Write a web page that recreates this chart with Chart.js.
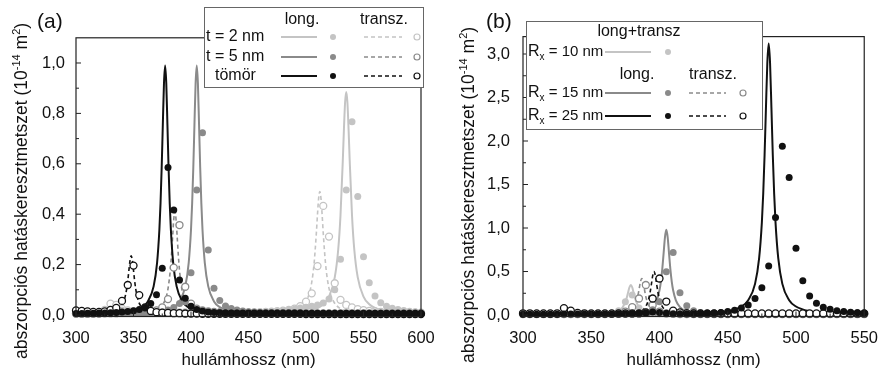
<!doctype html>
<html lang="hu">
<head>
<meta charset="utf-8">
<title>Abszorpciós hatáskeresztmetszet</title>
<script src="https://cdn.jsdelivr.net/npm/chart.js"></script>
<style>
  html, body { margin: 0; background: #fff; }
  canvas { position: absolute; top: 0; }
</style>
</head>
<body>
<canvas id="chartA" width="441" height="372" style="left:0"></canvas>
<canvas id="chartB" width="441" height="372" style="left:441px"></canvas>
<script>
// ---- (a) panel: dots on a 5 nm grid ----
const wlA = [300,305,310,315,320,325,330,335,340,345,350,355,360,365,370,375,380,385,390,395,
  400,405,410,415,420,425,430,435,440,445,450,455,460,465,470,475,480,485,490,495,
  500,505,510,515,520,525,530,535,540,545,550,555,560,565,570,575,580,585,590,595,600];

const t2LongDots = [0.004,0.004,0.004,0.005,0.005,0.006,0.010,0.020,0.020,0.015,
  0.012,0.010,0.008,0.007,0.006,0.006,0.006,0.006,0.006,0.006,
  0.006,0.006,0.006,0.006,0.006,0.006,0.007,0.007,0.007,0.008,
  0.008,0.009,0.010,0.011,0.012,0.014,0.016,0.019,0.023,0.028,
  0.031,0.035,0.040,0.048,0.063,0.100,0.221,0.496,0.767,0.470,
  0.231,0.128,0.075,0.049,0.035,0.027,0.022,0.018,0.015,0.013,0.011];
const t2TranszDots = [0.005,0.005,0.005,0.005,0.006,0.020,0.045,0.040,0.025,0.018,
  0.015,0.013,0.012,0.011,0.010,0.010,0.010,0.010,0.010,0.010,
  0.010,0.010,0.010,0.010,0.010,0.010,0.010,0.010,0.010,0.010,
  0.010,0.011,0.011,0.012,0.013,0.015,0.017,0.020,0.025,0.035,
  0.053,0.086,0.194,0.433,0.311,0.126,0.060,0.040,0.030,0.023,
  0.019,0.016,0.014,0.012,0.011,0.010,0.010,0.010,0.009,0.009,0.009];
const t5LongDots = [0.004,0.004,0.004,0.005,0.005,0.005,0.006,0.006,0.006,0.007,
  0.007,0.008,0.008,0.009,0.010,0.012,0.020,0.030,0.046,0.053,
  0.168,0.496,0.723,0.258,0.106,0.057,0.036,0.026,0.020,0.016,
  0.013,0.011,0.010,0.009,0.009,0.008,0.008,0.008,0.007,0.007,
  0.007,0.007,0.006,0.006,0.006,0.006,0.006,0.006,0.005,0.005,
  0.005,0.005,0.005,0.005,0.005,0.005,0.004,0.004,0.004,0.004,0.004];
const t5TranszDots = [0.006,0.006,0.006,0.006,0.006,0.007,0.007,0.007,0.008,0.008,
  0.009,0.009,0.010,0.012,0.018,0.030,0.063,0.188,0.357,0.112,
  0.045,0.025,0.018,0.014,0.012,0.010,0.009,0.009,0.008,0.008,
  0.008,0.008,0.007,0.007,0.007,0.007,0.007,0.007,0.007,0.007,
  0.006,0.006,0.006,0.006,0.006,0.006,0.006,0.006,0.006,0.006,
  0.006,0.006,0.006,0.006,0.006,0.006,0.006,0.006,0.006,0.006,0.006];
const solidLongDots = [0.006,0.006,0.007,0.007,0.008,0.008,0.009,0.010,0.012,0.014,
  0.017,0.022,0.030,0.046,0.080,0.185,0.585,0.417,0.139,0.066,
  0.035,0.022,0.016,0.012,0.010,0.009,0.008,0.007,0.007,0.006,
  0.006,0.006,0.006,0.005,0.005,0.005,0.005,0.005,0.005,0.005,
  0.005,0.005,0.005,0.004,0.004,0.004,0.004,0.004,0.004,0.004,
  0.004,0.004,0.004,0.004,0.004,0.004,0.004,0.004,0.004,0.004,0.004];
const solidTranszDots = [0.018,0.016,0.014,0.012,0.012,0.014,0.020,0.028,0.056,0.119,
  0.196,0.079,0.030,0.016,0.011,0.009,0.008,0.007,0.007,0.006,
  0.006,0.006,0.005,0.005,0.005,0.005,0.005,0.005,0.005,0.005,
  0.005,0.005,0.005,0.005,0.005,0.005,0.005,0.005,0.005,0.005,
  0.004,0.004,0.004,0.004,0.004,0.004,0.004,0.004,0.004,0.004,
  0.004,0.004,0.004,0.004,0.004,0.004,0.004,0.004,0.004,0.004,0.004];

// ---- (a) panel: model curves ----
const t2LongX = [300,400,450,480,500,510,515,520,525,528,530,532,533,534,535,536,537,538,540,542,545,550,555,560,570,580,600];
const t2LongY = [0.0003,0.0010,0.0025,0.0059,0.0144,0.0277,0.0427,0.073,0.149,0.259,0.396,0.613,0.739,0.844,0.885,0.844,0.739,0.613,0.396,0.259,0.149,0.073,0.0427,0.0277,0.0144,0.0088,0.0042];
const t2TranszX = [300,400,450,480,490,495,500,503,505,507,509,510,511,512,513,514,515,517,519,521,524,529,534,544,560,600];
const t2TranszY = [0.0002,0.0007,0.0022,0.0083,0.0173,0.028,0.0535,0.0876,0.130,0.203,0.325,0.400,0.464,0.490,0.464,0.400,0.325,0.203,0.130,0.0876,0.0535,0.028,0.0173,0.0083,0.0037,0.0012];
const t5LongX = [300,325,355,375,385,390,395,398,400,401,402,403,404,405,406,407,408,409,410,412,415,420,425,435,455,485,530,600];
const t5LongY = [0.0012,0.0020,0.0051,0.0141,0.0311,0.0539,0.1135,0.207,0.338,0.443,0.584,0.756,0.919,0.990,0.919,0.756,0.584,0.443,0.338,0.207,0.1135,0.0539,0.0311,0.0141,0.0051,0.0020,0.0008,0.0003];
const t5TranszX = [300,346,366,374,378,380,382,383,384,385,386,387,388,389,390,392,394,398,406,426,470,600];
const t5TranszY = [0.0007,0.0031,0.0122,0.032,0.066,0.104,0.178,0.236,0.309,0.379,0.410,0.379,0.309,0.236,0.178,0.104,0.066,0.032,0.0122,0.0031,0.0007,0.0001];
const solidLongX = [300,327.5,347.5,357.5,362.5,367.5,370.5,372.5,373.5,374.5,375.5,376.5,377.5,378.5,379.5,380.5,381.5,382.5,384.5,387.5,392.5,397.5,407.5,427.5,457.5,502.5,600];
const solidLongY = [0.0020,0.0051,0.0141,0.0311,0.0539,0.1135,0.207,0.338,0.443,0.584,0.756,0.919,0.990,0.919,0.756,0.584,0.443,0.338,0.207,0.1135,0.0539,0.0311,0.0141,0.0051,0.0020,0.0008,0.0003];
const solidTranszX = [300,320,328,336,340,342,344,345,346,347,348,349,350,351,352,354,356,360,368,388,430,600];
const solidTranszY = [0.0012,0.0036,0.0070,0.0184,0.0378,0.0597,0.102,0.135,0.177,0.217,0.235,0.217,0.177,0.135,0.102,0.0597,0.0378,0.0184,0.0070,0.0018,0.0004,0.0001];

// ---- (b) panel: dots ----
const wlB = [300,305,310,315,320,325,330,335,340,345,350,355,360,365,370,375,380,385,390,395,
  400,405,410,415,420,425,430,435,440,445,450,455,460,465,470,475,480,485,490,495,
  500,505,510,515,520,525,530,535,540,545,550];

const r10Dots = [0.005,0.005,0.005,0.005,0.005,0.005,0.005,0.005,0.005,0.005,
  0.006,0.007,0.009,0.020,0.050,0.153,0.230,0.080,0.040,0.025,
  0.015,0.010,0.008,0.007,0.007,0.006,0.006,0.006,0.006,0.006,
  0.006,0.006,0.006,0.006,0.006,0.006,0.006,0.006,0.006,0.006,
  0.005,0.005,0.005,0.005,0.005,0.005,0.005,0.005,0.005,0.005,0.005];
const r15LongDots = [0.005,0.005,0.005,0.005,0.005,0.005,0.005,0.005,0.005,0.005,
  0.005,0.005,0.006,0.006,0.007,0.008,0.010,0.015,0.030,0.060,
  0.153,0.498,0.720,0.255,0.107,0.050,0.030,0.020,0.015,0.012,
  0.011,0.010,0.010,0.009,0.009,0.009,0.008,0.008,0.008,0.008,
  0.007,0.007,0.007,0.007,0.007,0.007,0.007,0.007,0.007,0.007,0.007];
const r15TranszDots = [0.010,0.010,0.010,0.010,0.010,0.010,0.010,0.010,0.010,0.010,
  0.010,0.010,0.011,0.013,0.020,0.040,0.090,0.190,0.345,0.115,
  0.040,0.020,0.015,0.012,0.012,0.011,0.011,0.011,0.010,0.010,
  0.010,0.010,0.010,0.010,0.010,0.010,0.010,0.010,0.010,0.010,
  0.010,0.010,0.010,0.010,0.010,0.010,0.010,0.010,0.010,0.010,0.010];
const r25LongDots = [0.010,0.010,0.010,0.010,0.010,0.010,0.012,0.012,0.012,0.012,
  0.012,0.012,0.012,0.012,0.014,0.015,0.018,0.020,0.025,0.035,
  0.030,0.020,0.016,0.015,0.015,0.015,0.017,0.019,0.022,0.028,
  0.040,0.055,0.080,0.115,0.190,0.314,0.563,1.120,1.940,1.580,
  0.766,0.394,0.220,0.134,0.090,0.065,0.050,0.040,0.032,0.026,0.022];
const r25TranszDots = [0.020,0.020,0.018,0.018,0.018,0.020,0.080,0.050,0.025,0.020,
  0.018,0.018,0.018,0.018,0.018,0.018,0.018,0.018,0.030,0.190,
  0.420,0.155,0.050,0.030,0.022,0.018,0.018,0.018,0.018,0.018,
  0.018,0.018,0.018,0.018,0.018,0.018,0.018,0.018,0.018,0.018,
  0.018,0.018,0.018,0.018,0.018,0.018,0.018,0.018,0.018,0.018,0.018];

// ---- (b) panel: model curves ----
const r10X = [300,339,359,367,371,373,375,376,377,378,379,380,381,382,383,385,387,391,399,419,470,550];
const r10Y = [0.0007,0.0026,0.010,0.027,0.0555,0.0876,0.150,0.199,0.260,0.319,0.345,0.319,0.260,0.199,0.150,0.0876,0.0555,0.027,0.010,0.0026,0.0005,0.0001];
const r15LongX = [300,355,375,385,390,395,398,400,401,402,403,404,405,406,407,408,409,410,412,415,420,425,435,455,500,550];
const r15LongY = [0.0009,0.0040,0.0110,0.0245,0.0427,0.091,0.169,0.285,0.382,0.522,0.705,0.893,0.980,0.893,0.705,0.522,0.382,0.285,0.169,0.091,0.0427,0.0245,0.0110,0.0040,0.0011,0.0005];
const r15TranszX = [300,347,367,375,379,381,383,384,385,386,387,388,389,390,391,393,395,399,407,427,480,550];
const r15TranszY = [0.0005,0.0023,0.0092,0.0247,0.0518,0.084,0.151,0.210,0.291,0.378,0.420,0.378,0.291,0.210,0.151,0.084,0.0518,0.0247,0.0092,0.0023,0.0004,0.0001];
const r25LongX = [300,400,430,450,460,465,470,473,475,476,477,478,479,480,481,482,483,484,485,487,490,495,500,510,530,550];
const r25LongY = [0.0012,0.0063,0.0161,0.0443,0.0979,0.170,0.358,0.653,1.065,1.396,1.842,2.384,2.896,3.120,2.896,2.384,1.842,1.396,1.065,0.653,0.358,0.170,0.0979,0.0443,0.0161,0.0082];
const r25TranszX = [300,356,376,384,388,390,392,393,394,395,396,397,398,399,400,402,404,408,416,436,480,550];
const r25TranszY = [0.0005,0.0028,0.011,0.0294,0.0617,0.100,0.180,0.250,0.346,0.450,0.500,0.450,0.346,0.250,0.180,0.100,0.0617,0.0294,0.011,0.0028,0.0006,0.0002];

// ---- axis ticks ----
const xTicksA = [300,350,400,450,500,550,600];
const xMinorA = [325,375,425,475,525,575];
const yTicksA = [0,0.2,0.4,0.6,0.8,1.0];
const yMinorA = [0.1,0.3,0.5,0.7,0.9];
const xTicksB = [300,350,400,450,500,550];
const xMinorB = [325,375,425,475,525];
const yTicksB = [0,0.5,1.0,1.5,2.0,2.5,3.0];
const yMinorB = [0.25,0.75,1.25,1.75,2.25,2.75];

const LIGHT = '#c4c4c4', MID = '#8a8a8a', DARK = '#111111';
const INK = '#111';
const FONT = '"Liberation Sans", Arial, sans-serif';
const DASH = [4, 3];

const pts = (xs, ys) => xs.map((x, i) => ({ x: x, y: ys[i] }));
const line = (xs, ys, color, dashed) => ({
  data: pts(xs, ys), showLine: true, borderColor: color, borderWidth: dashed ? 1.6 : 2,
  borderDash: dashed ? DASH : [], pointRadius: 0, cubicInterpolationMode: 'monotone', fill: false
});
const dots = (xs, ys, color, open) => ({
  data: pts(xs, ys), showLine: false, pointRadius: 3.5, pointHoverRadius: 3.5,
  pointBackgroundColor: open ? '#fff' : color, pointBorderColor: color,
  pointBorderWidth: open ? 1.3 : 0, clip: false
});

// text made of pieces: [text, size, dy]
function rich(ctx, parts, x, y) {
  let cx = x;
  parts.forEach(([t, size, dy]) => {
    ctx.font = size + 'px ' + FONT;
    ctx.fillText(t, cx, y + (dy || 0));
    cx += ctx.measureText(t).width;
  });
}
function richWidth(ctx, parts) {
  return parts.reduce((w, [t, size]) => { ctx.font = size + 'px ' + FONT; return w + ctx.measureText(t).width; }, 0);
}

const yTitle = [['abszorpciós hatáskeresztmetszet (10', 17.5], ['-14', 11, -5.5], [' m', 17.5], ['2', 11, -5.5], [')', 17.5]];

function sample(ctx, x1, x2, y, color, dashed) {
  ctx.save();
  ctx.strokeStyle = color;
  ctx.lineWidth = dashed ? 1.6 : 2;
  ctx.setLineDash(dashed ? DASH : []);
  ctx.beginPath(); ctx.moveTo(x1, y); ctx.lineTo(x2, y); ctx.stroke();
  ctx.restore();
}
function marker(ctx, x, y, color, open) {
  ctx.save();
  ctx.beginPath(); ctx.arc(x, y, 3, 0, Math.PI * 2);
  if (open) { ctx.fillStyle = '#fff'; ctx.fill(); ctx.strokeStyle = color; ctx.lineWidth = 1.2; ctx.stroke(); }
  else { ctx.fillStyle = color; ctx.fill(); }
  ctx.restore();
}
function legendBox(ctx, x, y, w, h) {
  ctx.fillStyle = '#fff';
  ctx.fillRect(x, y, w, h);
  ctx.strokeStyle = '#666';
  ctx.lineWidth = 1;
  ctx.strokeRect(x + 0.5, y + 0.5, w, h);
}

function legendA(ctx) {
  legendBox(ctx, 204, 7, 219, 80);
  ctx.fillStyle = INK;
  ctx.textBaseline = 'middle';
  ctx.font = '16px ' + FONT;
  ctx.textAlign = 'center';
  ctx.fillText('long.', 302, 20);
  ctx.fillText('transz.', 384, 20);
  ctx.textAlign = 'left';
  [['t = 2 nm', LIGHT, 37, 206], ['t = 5 nm', MID, 57, 206], ['tömör', DARK, 76, 215]].forEach(([label, c, y, x]) => {
    ctx.fillStyle = INK;
    ctx.fillText(label, x, y);
    sample(ctx, 281, 317, y, c, false);
    marker(ctx, 333, y, c, false);
    sample(ctx, 364, 402, y, c, true);
    marker(ctx, 417, y, c, true);
  });
}

function legendB(ctx) {
  legendBox(ctx, 85, 21, 236, 108);
  ctx.fillStyle = INK;
  ctx.textBaseline = 'middle';
  ctx.font = '16px ' + FONT;
  ctx.textAlign = 'center';
  ctx.fillText('long+transz', 198, 32);
  ctx.fillText('long.', 196, 75);
  ctx.fillText('transz.', 272, 75);
  ctx.textAlign = 'left';
  const label = nm => [['R', 16], ['x', 10, 5], [' = ' + nm + ' nm', 15]];
  rich(ctx, label(10), 87, 52);
  sample(ctx, 164, 210, 52, LIGHT, false);
  marker(ctx, 227, 52, LIGHT, false);
  [[15, MID, 93], [25, DARK, 116]].forEach(([nm, c, y]) => {
    ctx.fillStyle = INK;
    rich(ctx, label(nm), 87, y);
    sample(ctx, 164, 210, y, c, false);
    marker(ctx, 227, y, c, false);
    sample(ctx, 248, 285, y, c, true);
    marker(ctx, 302, y, c, true);
  });
}

// frame, inward ticks, titles, panel tag and legend
const decor = {
  id: 'decor',
  afterDraw(chart, args, o) {
    const { ctx, chartArea: a, scales: { x, y } } = chart;
    ctx.save();
    ctx.strokeStyle = '#222';
    ctx.lineWidth = 1.2;
    ctx.strokeRect(a.left, a.top, a.right - a.left, a.bottom - a.top);
    const tick = (s, vals, len) => vals.forEach(v => {
      const p = s.getPixelForValue(v);
      ctx.beginPath();
      if (s.isHorizontal()) { ctx.moveTo(p, a.bottom); ctx.lineTo(p, a.bottom - len); }
      else { ctx.moveTo(a.left, p); ctx.lineTo(a.left + len, p); }
      ctx.stroke();
    });
    ctx.lineWidth = 1;
    tick(x, o.xTicks, 5); tick(x, o.xMinor, 3);
    tick(y, o.yTicks, 5); tick(y, o.yMinor, 3);

    ctx.fillStyle = INK;
    ctx.textBaseline = 'middle';
    ctx.textAlign = 'center';
    ctx.font = '17px ' + FONT;
    ctx.fillText('hullámhossz (nm)', (a.left + a.right) / 2, 360);

    ctx.save();
    ctx.translate(o.titleX, o.titleY);
    ctx.rotate(-Math.PI / 2);
    ctx.textAlign = 'left';
    rich(ctx, yTitle, -richWidth(ctx, yTitle) / 2, 0);
    ctx.restore();

    ctx.textAlign = 'left';
    ctx.font = '21px ' + FONT;
    ctx.fillText(o.tag, o.tagX, 22);

    o.legend(ctx);
    ctx.restore();
  }
};

function options(cfg) {
  const tickFont = { family: FONT, size: 16.5 };
  return {
    responsive: false, animation: false, devicePixelRatio: 1,
    layout: { padding: { top: cfg.top, right: cfg.right, left: 0, bottom: 0 } },
    plugins: { legend: { display: false }, tooltip: { enabled: false }, decor: cfg },
    scales: {
      x: {
        type: 'linear', min: cfg.xMin, max: cfg.xMax,
        afterBuildTicks: s => { s.ticks = cfg.xTicks.map(v => ({ value: v })); },
        afterFit: s => { s.height = 55.5; },
        grid: { display: false }, border: { display: false },
        ticks: { padding: 4, color: INK, font: tickFont, autoSkip: false, maxRotation: 0, callback: v => String(v) }
      },
      y: {
        type: 'linear', min: cfg.yMin, max: cfg.yMax,
        afterBuildTicks: s => { s.ticks = cfg.yTicks.map(v => ({ value: v })); },
        afterFit: s => { s.width = cfg.yWidth; },
        grid: { display: false }, border: { display: false },
        ticks: { padding: cfg.yPad, color: INK, font: tickFont, autoSkip: false, callback: v => v.toFixed(1).replace('.', ',') }
      }
    }
  };
}

new Chart(document.getElementById('chartA'), {
  type: 'scatter',
  data: {
    datasets: [
      dots(wlA, solidLongDots, DARK, false),
      dots(wlA, solidTranszDots, DARK, true),
      dots(wlA, t5LongDots, MID, false),
      dots(wlA, t5TranszDots, MID, true),
      dots(wlA, t2LongDots, LIGHT, false),
      dots(wlA, t2TranszDots, LIGHT, true),
      line(solidLongX, solidLongY, DARK, false),
      line(solidTranszX, solidTranszY, DARK, true),
      line(t5LongX, t5LongY, MID, false),
      line(t5TranszX, t5TranszY, MID, true),
      line(t2LongX, t2LongY, LIGHT, false),
      line(t2TranszX, t2TranszY, LIGHT, true)
    ]
  },
  options: options({
    top: 37.8, right: 20, yWidth: 76, yPad: 3,
    xMin: 300, xMax: 600, yMin: -0.006, yMax: 1.1,
    xTicks: xTicksA, xMinor: xMinorA, yTicks: yTicksA, yMinor: yMinorA,
    titleX: 22, titleY: 191, tag: '(a)', tagX: 37, legend: legendA
  }),
  plugins: [decor]
});

new Chart(document.getElementById('chartB'), {
  type: 'scatter',
  data: {
    datasets: [
      dots(wlB, r25LongDots, DARK, false),
      dots(wlB, r25TranszDots, DARK, true),
      dots(wlB, r15LongDots, MID, false),
      dots(wlB, r15TranszDots, MID, true),
      dots(wlB, r10Dots, LIGHT, false),
      line(r25LongX, r25LongY, DARK, false),
      line(r25TranszX, r25TranszY, DARK, true),
      line(r15LongX, r15LongY, MID, false),
      line(r15TranszX, r15TranszY, MID, true),
      line(r10X, r10Y, LIGHT, false)
    ]
  },
  options: options({
    top: 36.6, right: 14, yWidth: 82, yPad: 5,
    xMin: 300, xMax: 550, yMin: -0.017, yMax: 3.2,
    xTicks: xTicksB, xMinor: xMinorB, yTicks: yTicksB, yMinor: yMinorB,
    titleX: 28, titleY: 195, tag: '(b)', tagX: 45, legend: legendB
  }),
  plugins: [decor]
});
</script>
</body>
</html>
